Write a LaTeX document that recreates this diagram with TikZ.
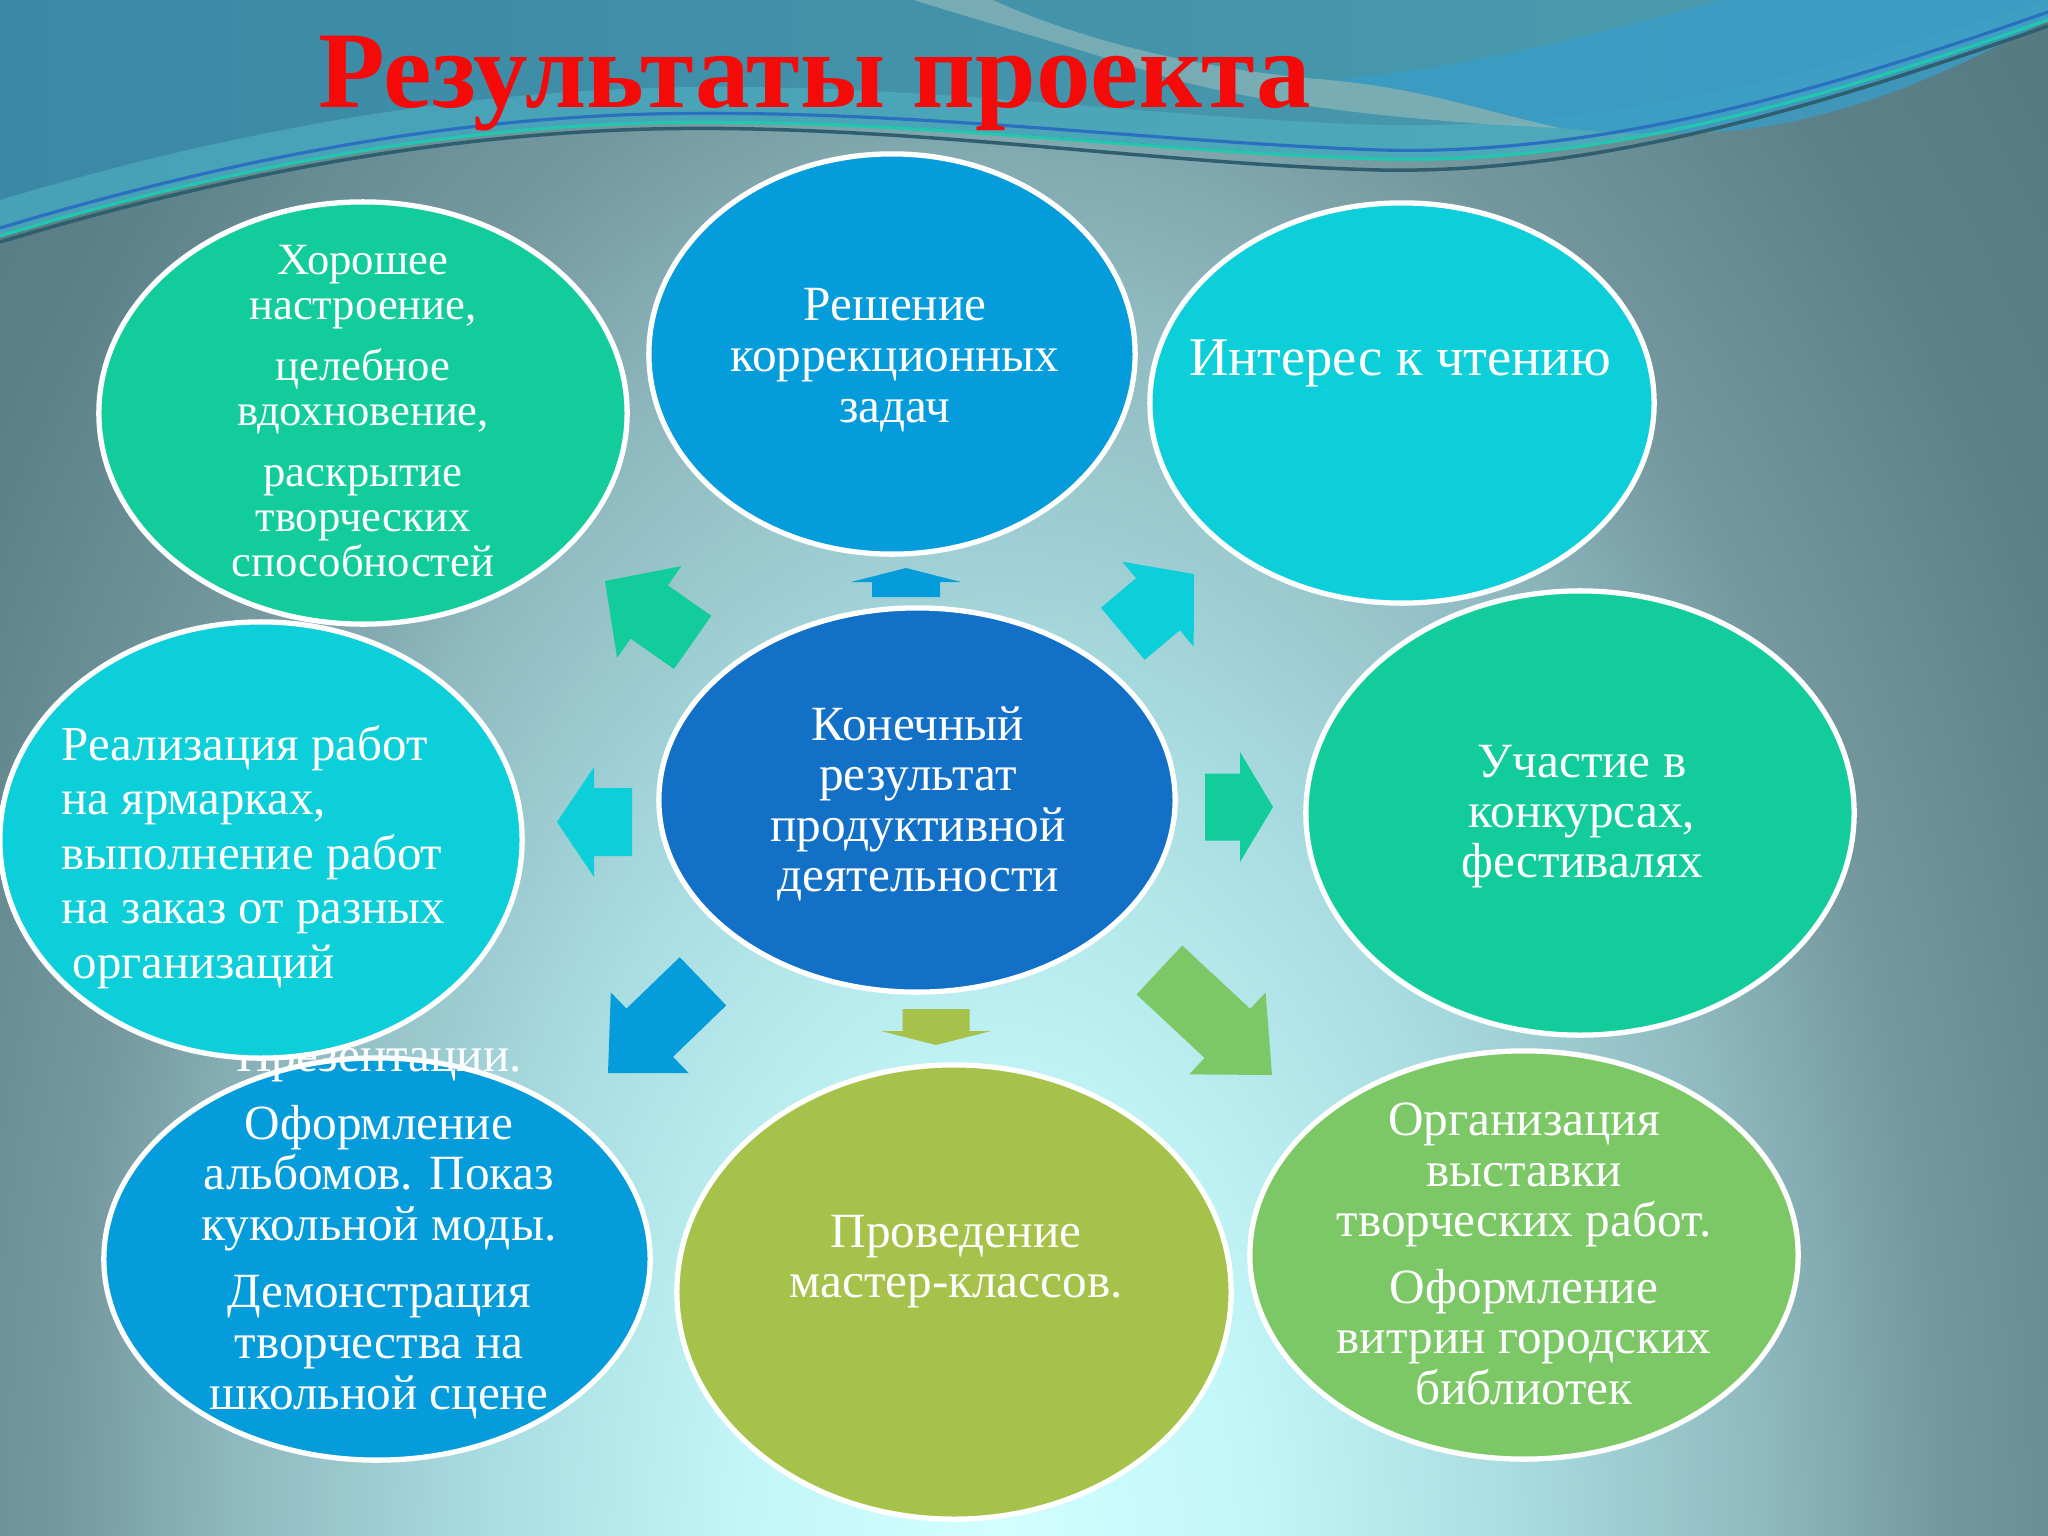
\documentclass[tikz,border=0pt]{standalone}
\usepackage{fontspec}
\setmainfont{Liberation Serif}
\usetikzlibrary{shapes.geometric}
\definecolor{cgreen}{HTML}{13CC9B}
\definecolor{cblue}{HTML}{049CDA}
\definecolor{ccyan}{HTML}{0DCFD9}
\definecolor{ccenter}{HTML}{1270C7}
\definecolor{colive}{HTML}{A6C24A}
\definecolor{clgreen}{HTML}{7CC866}
\definecolor{ctitle}{HTML}{F50A0A}
\definecolor{bg0}{HTML}{D2FFFF}
\definecolor{bg1}{HTML}{C2F6F8}
\definecolor{bg2}{HTML}{A9DDE1}
\definecolor{bg3}{HTML}{8EB9BF}
\definecolor{bg4}{HTML}{75999F}
\definecolor{bg5}{HTML}{5C8189}
\definecolor{bg6}{HTML}{4C6F77}
\definecolor{wave1}{HTML}{3A88A6}
\definecolor{wave2}{HTML}{4C9EAE}
\definecolor{waveband}{HTML}{52B6C6}
\definecolor{streak}{HTML}{8AB5B8}
\definecolor{lnslate}{HTML}{2F5F6F}
\definecolor{lngreen}{HTML}{22C7B0}
\definecolor{lnblue}{HTML}{2A6FC0}
\definecolor{bulge}{HTML}{3A9CC6}
\pgfdeclareradialshading{bgsh}{\pgfpoint{0bp}{0bp}}{color(0bp)=(bg0); color(3.75bp)=(bg1); color(7.5bp)=(bg2); color(11.25bp)=(bg3); color(13.75bp)=(bg4); color(17.5bp)=(bg5); color(25bp)=(bg6); color(50bp)=(bg6)}
\newcommand\barrow[8]{%
  \fill[#8, shift={(#1,#2)}, rotate=#3] (0,0) -- (-#5,#6/2) -- (-#5,#7/2) -- (-#4,#7/2) -- (-#4,-#7/2) -- (-#5,-#7/2) -- (-#5,-#6/2) -- cycle;}
\tikzset{
  bub/.style={ellipse, draw=white, line width=1.5pt, inner sep=0pt},
  txt/.style={text=white, align=center, inner sep=0pt},
  fs/.style={font=\fontsize{#1}{#1}\selectfont},
}
\begin{document}
\begin{tikzpicture}[x=0.01cm, y=-0.01cm]
\useasboundingbox (0,0) rectangle (2048,1536);
% background
\begin{scope}
\clip (0,0) rectangle (2048,1536);
\fill[bg6] (0,0) rectangle (2048,1536);
\shade[shading=bgsh] (1000,1550) ellipse (17cm and 28cm);
% top wave
\fill[left color=wave1, right color=wave2] (0,0) -- (0,235) .. controls (200,175) and (420,128) .. (650,122) .. controls (900,116) and (1150,150) .. (1380,158) .. controls (1600,165) and (1820,100) .. (2048,20) -- (2048,0) -- cycle;
\fill[waveband, opacity=0.55] (0,235) .. controls (200,175) and (420,128) .. (650,122) .. controls (900,116) and (1150,150) .. (1380,158) .. controls (1600,165) and (1820,100) .. (2048,20) -- (2048,0) .. controls (1800,80) and (1600,130) .. (1380,125) .. controls (1150,118) and (900,80) .. (650,88) .. controls (420,95) and (200,140) .. (0,200) -- cycle;
\fill[streak, opacity=0.75] (914,0) -- (993,0) .. controls (1080,40) and (1200,70) .. (1330,80) .. controls (1420,88) and (1480,110) .. (1560,128) .. controls (1420,122) and (1250,105) .. (1150,72) .. controls (1050,40) and (960,15) .. (914,0) -- cycle;
\fill[bulge, opacity=0.8] (1330,80) .. controls (1420,88) and (1480,110) .. (1560,128) .. controls (1620,134) and (1680,136) .. (1740,130) .. controls (1870,115) and (1980,55) .. (2048,20) -- (2048,0) -- (1720,0) .. controls (1580,40) and (1450,70) .. (1330,80) -- cycle;
\draw[lnslate, line width=1pt] (0,242) .. controls (200,182) and (420,135) .. (650,129) .. controls (900,123) and (1150,164) .. (1380,170) .. controls (1600,174) and (1820,106) .. (2048,26);
\draw[lngreen, line width=0.9pt] (0,236) .. controls (200,176) and (420,129) .. (650,123) .. controls (900,117) and (1150,152) .. (1380,159) .. controls (1600,165) and (1820,100) .. (2048,20);
\draw[lnblue, line width=0.9pt] (0,228) .. controls (200,168) and (420,120) .. (650,114) .. controls (900,108) and (1150,142) .. (1380,150) .. controls (1600,156) and (1820,92) .. (2048,12);
\end{scope}
% title
\node[font=\fontsize{31}{32}\selectfont\bfseries, text=ctitle, anchor=base, inner sep=0pt] (title) at (815,107) {Результаты проекта};
% arrows
\barrow{605}{581}{145}{107}{54}{112}{65}{cgreen}
\barrow{906}{568}{90}{29}{14}{110}{68}{cblue}
\barrow{1194}{574}{40}{93}{47}{111}{68}{ccyan}
\barrow{557}{822}{180}{75}{37}{110}{68}{ccyan}
\barrow{1273}{807}{0}{68}{33}{110}{67}{cgreen}
\barrow{608}{1073}{224}{132}{58}{112}{67}{cblue}
\barrow{936}{1045}{270}{36}{14}{110}{67}{colive}
\barrow{1272}{1075}{-43}{154}{61}{112}{67}{clgreen}
% ellipses
\node[bub, fill=cgreen, minimum width=5.28cm, minimum height=4.22cm] (e1) at (363,413) {};
\node[txt, fs=12.7] (t1) at (363,411) {Хорошее\\настроение,\\[4.8pt]целебное\\вдохновение,\\[4.8pt]раскрытие\\творческих\\способностей};
\node[bub, fill=cblue, minimum width=4.86cm, minimum height=4.0cm] (e2) at (892,354) {};
\node[txt, font=\fontsize{14}{14.5}\selectfont] (t2) at (895,360) {Решение\\коррекционных\\задач};
\node[bub, fill=ccyan, minimum width=5.04cm, minimum height=4.0cm] (e3) at (1402,403) {};
\node[txt, font=\fontsize{15.5}{16}\selectfont] (t3) at (1400,363) {Интерес к чтению};
\node[bub, fill=ccenter, minimum width=5.16cm, minimum height=3.84cm] (e5) at (917,800) {};
\node[txt, font=\fontsize{14}{14.3}\selectfont] (t5) at (918,804) {Конечный\\результат\\продуктивной\\деятельности};
\node[bub, fill=cgreen, minimum width=5.48cm, minimum height=4.44cm] (e6) at (1580,813) {};
\node[txt, font=\fontsize{14}{14.2}\selectfont] (t6) at (1582,817) {Участие в\\конкурсах,\\фестивалях};
\node[bub, fill=cblue, minimum width=5.46cm, minimum height=4.02cm] (e7) at (377,1259) {};
\node[txt, font=\fontsize{14}{14.4}\selectfont] (t7) at (379,1229) {Презентации.\\[4.8pt]Оформление\\альбомов. Показ\\кукольной моды.\\[4.8pt]Демонстрация\\творчества на\\школьной сцене};
\node[bub, fill=ccyan, minimum width=5.22cm, minimum height=4.36cm] (e4) at (261,840) {};
\node[txt, align=left, anchor=west, font=\fontsize{13.9}{15.5}\selectfont] (t4) at (61,857) {Реализация работ\\на ярмарках,\\выполнение работ\\на заказ от разных\\\hspace*{0.11cm}организаций};
\node[bub, fill=colive, minimum width=5.54cm, minimum height=4.54cm] (e8) at (954,1292) {};
\node[txt, font=\fontsize{14}{14.2}\selectfont] (t8) at (956,1262) {Проведение\\мастер-классов.};
\node[bub, fill=clgreen, minimum width=5.48cm, minimum height=4.08cm] (e9) at (1524,1255) {};
\node[txt, font=\fontsize{14}{14.3}\selectfont] (t9) at (1524,1254) {Организация\\выставки\\творческих работ.\\[4.8pt]Оформление\\витрин городских\\библиотек};
\end{tikzpicture}
\end{document}
